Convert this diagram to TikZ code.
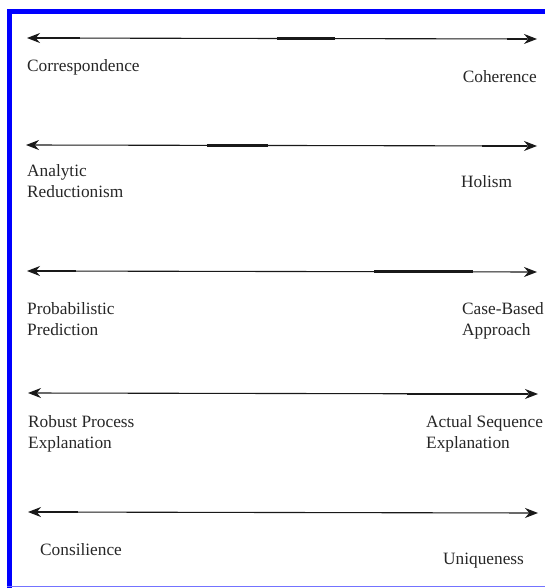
\documentclass[tikz,border=0pt]{standalone}
\usepackage{fontspec}
\setmainfont{Liberation Serif}
\usetikzlibrary{arrows.meta}
\begin{document}
\begin{tikzpicture}[x=1pt,y=-1pt,
  axis/.style={line width=1.1pt, draw=black!90,
    {Stealth[length=13pt,width=10pt]}-{Stealth[length=13pt,width=10pt]}},
  heavy/.style={line width=2.4pt, draw=black!90},
  lbl/.style={inner sep=0pt, font=\fontsize{17.3}{20.5}\selectfont, text=black!85, align=left}]
\useasboundingbox (0,0) rectangle (545,588);
% frame
\fill[blue] (7,9) rectangle (545,14);
\fill[blue] (7,9) rectangle (12,588);
\draw[blue!55, line width=1.2pt] (7,586.5) -- (545,586.5);

% axis end points
\coordinate (l1) at (27,38);  \coordinate (r1) at (537,39);
\coordinate (l2) at (26,145); \coordinate (r2) at (537,146);
\coordinate (l3) at (27,271); \coordinate (r3) at (537,272);
\coordinate (l4) at (28,393); \coordinate (r4) at (538,394);
\coordinate (l5) at (28,512); \coordinate (r5) at (538,513);

% heavy parts of the lines
\draw[heavy] (l1) ++(8,0) -- ++(45,0);
\draw[heavy] (l1) ++(250,0.5) -- ++(58,0);
\draw[heavy] (r1) ++(-30,0) -- ++(20,0);
\draw[heavy] (l2) ++(181,0.5) -- ++(61,0);
\draw[heavy] (r2) ++(-55,0) -- ++(45,0);
\draw[heavy] (l3) ++(8,0) -- ++(41,0);
\draw[heavy] (l3) ++(347,0.5) -- ++(99,0);
\draw[heavy] (r4) ++(-131,0) -- ++(121,0);
\draw[heavy] (l5) ++(8,0) -- ++(42,0);

% axes
\draw[axis] (l1) -- (r1);
\draw[axis] (l2) -- (r2);
\draw[axis] (l3) -- (r3);
\draw[axis] (l4) -- (r4);
\draw[axis] (l5) -- (r5);

% labels (base anchor of a two-line node = baseline of its last line)
\node[lbl, anchor=base west] (corr) at (27,72) {Correspondence};
\node[lbl, anchor=base east] (coh) at (537,83) {Coherence};
\node[lbl, anchor=base west] (anr) at (27,197) {Analytic\\Reductionism};
\node[lbl, anchor=base west] (hol) at (461,187) {Holism};
\node[lbl, anchor=base west] (prob) at (27,335) {Probabilistic\\Prediction};
\node[lbl, anchor=base west] (case) at (462,335) {Case-Based\\Approach};
\node[lbl, anchor=base west] (rob) at (28,448) {Robust Process\\Explanation};
\node[lbl, anchor=base west] (act) at (426,448) {Actual Sequence\\Explanation};
\node[lbl, anchor=base west] (cons) at (40,555) {Consilience};
\node[lbl, anchor=base west] (uniq) at (443,564) {Uniqueness};
\end{tikzpicture}
\end{document}
